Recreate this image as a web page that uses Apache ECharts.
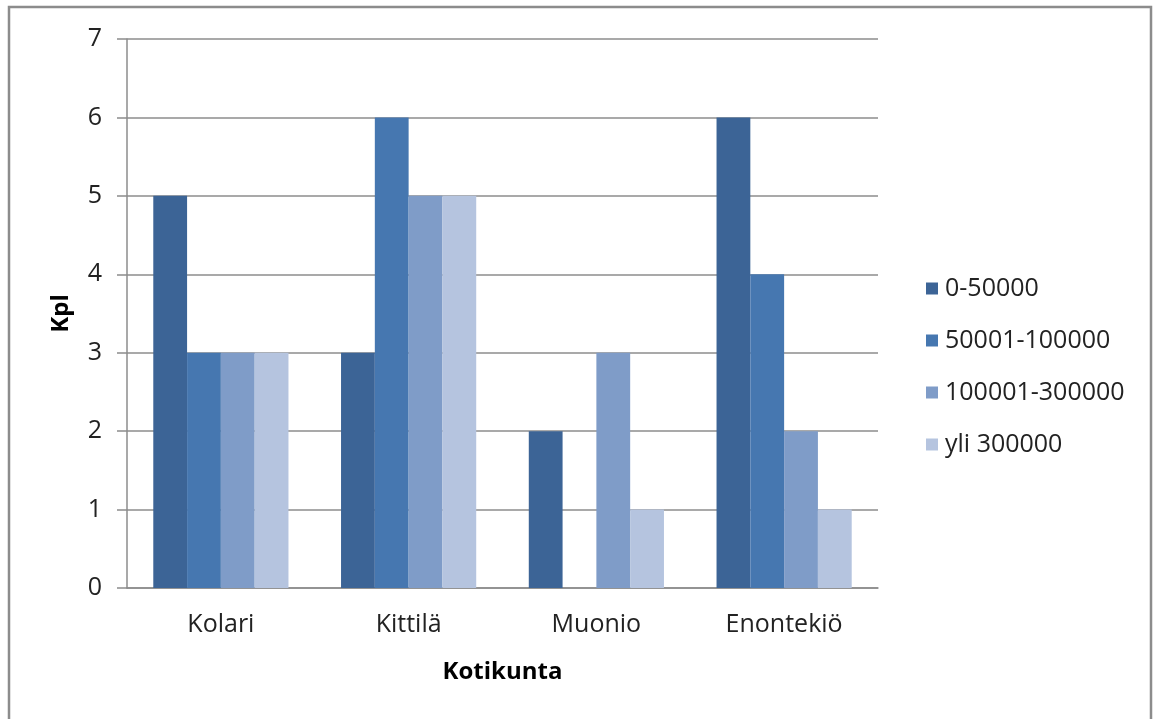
<!DOCTYPE html>
<html><head><meta charset="utf-8">
<script src="https://cdn.jsdelivr.net/npm/echarts@6/dist/echarts.min.js"></script>
<style>html,body{margin:0;padding:0;background:#fff}#c{width:1155px;height:719px}</style>
</head><body><div id="c"></div>
<script>
const categories = ['Kolari', 'Kittilä', 'Muonio', 'Enontekiö'];
const seriesNames = ['0-50000', '50001-100000', '100001-300000', 'yli 300000'];
const s0 = [5, 3, 2, 6];
const s1 = [3, 6, 0, 4];
const s2 = [3, 5, 3, 2];
const s3 = [3, 5, 1, 1];
const yTicks = [0, 1, 2, 3, 4, 5, 6, 7];
const colors = ['#3C6496', '#4677B0', '#7F9CC8', '#B5C4DF'];
const values = [s0, s1, s2, s3];
const FONT = 'Open Sans';

const chart = echarts.init(document.getElementById('c'));
chart.setOption({
  animation: false,
  textStyle: { fontFamily: FONT },
  graphic: [{
    type: 'rect', shape: { x: 9, y: 7, width: 1142, height: 730 },
    style: { fill: 'none', stroke: '#8C8C8C', lineWidth: 2.5 }, silent: true, z: 100
  }],
  grid: { left: 127, right: 277, top: 39, bottom: 131 },
  legend: {
    orient: 'vertical', left: 921, top: 271,
    itemWidth: 12, itemHeight: 12, itemGap: 27, icon: 'rect',
    textStyle: { fontFamily: FONT, fontSize: 25, color: '#222', lineHeight: 25, padding: [0, 0, 0, 2] },
    data: seriesNames
  },
  xAxis: {
    type: 'category', data: categories,
    name: 'Kotikunta', nameLocation: 'middle', nameGap: 72,
    nameTextStyle: { fontFamily: FONT, fontSize: 24, fontWeight: 'bold', color: '#000' },
    axisLine: { lineStyle: { color: '#8C8C8C', width: 1.5 } },
    axisTick: { show: false },
    axisLabel: { fontFamily: FONT, fontSize: 25, color: '#222', margin: 24 }
  },
  yAxis: {
    type: 'value', min: 0, max: 7, interval: 1,
    name: 'Kpl', nameLocation: 'middle', nameGap: 54, nameRotate: 90,
    nameTextStyle: { fontFamily: FONT, fontSize: 24, fontWeight: 'bold', color: '#000' },
    axisLine: { show: true, lineStyle: { color: '#8C8C8C', width: 1.5 } },
    axisTick: { show: true, length: 10, lineStyle: { color: '#8C8C8C', width: 1.5 } },
    splitLine: { lineStyle: { color: '#8C8C8C', width: 1.5 } },
    axisLabel: { fontFamily: FONT, fontSize: 25, color: '#222', margin: 25,
      formatter: v => yTicks.includes(v) ? String(v) : '' }
  },
  series: seriesNames.map((n, i) => ({
    name: n, type: 'bar', data: values[i],
    barGap: 0, barCategoryGap: '28%',
    itemStyle: { color: colors[i] }
  }))
});
</script></body></html>
